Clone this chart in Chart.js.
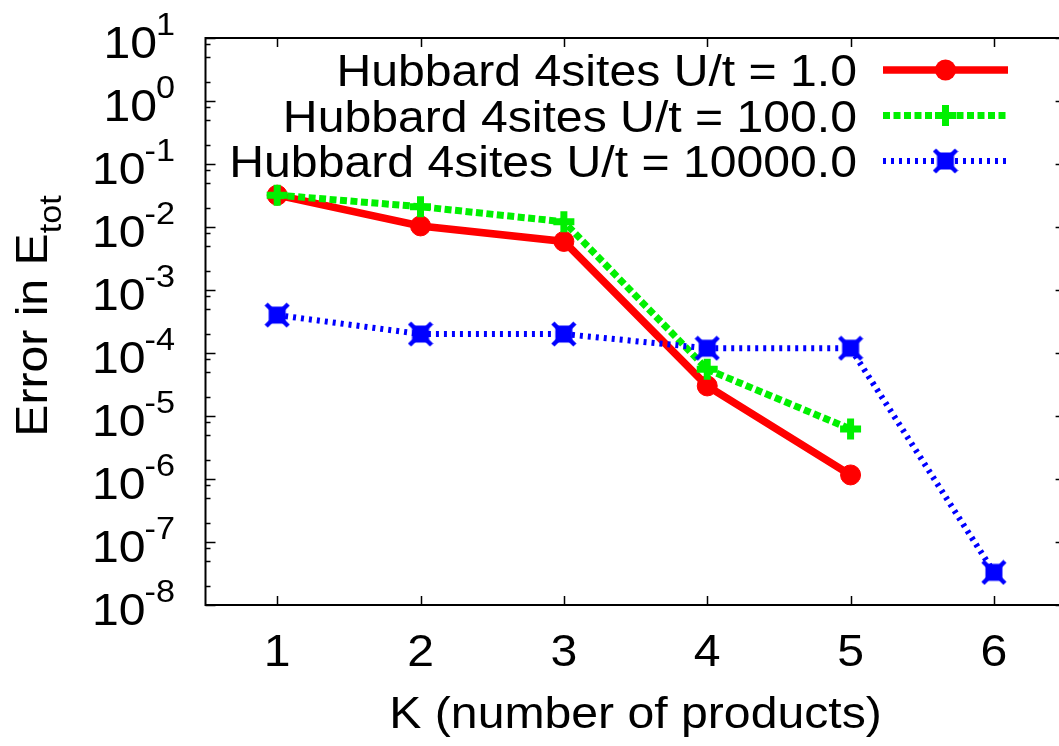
<!DOCTYPE html>
<html>
<head>
<meta charset="utf-8">
<script src="https://cdn.jsdelivr.net/npm/chart.js@4/dist/chart.umd.min.js"></script>
<style>
  html, body { margin: 0; padding: 0; background: #ffffff; overflow: hidden; width: 1059px; height: 746px; }
  #wrap { position: relative; width: 1059px; height: 746px; overflow: hidden; }
  #plot { display: block; position: absolute; left: 0; top: 0; }
</style>
</head>
<body>
<div id="wrap"><canvas id="plot" width="1070" height="746"></canvas></div>
<script>
// K = number of products
const kValues = [1, 2, 3, 4, 5, 6];
// Error in E_tot for the 4-site Hubbard model
const errU1 = [0.032, 0.0104, 0.0059, 3.0e-5, 1.16e-6];
const errU100 = [0.032, 0.021, 0.0121, 5.5e-5, 6.2e-6];
const errU10000 = [4.0e-4, 2.0e-4, 2.0e-4, 1.19e-4, 1.19e-4, 3.3e-8];
const seriesLabels = [
  'Hubbard 4sites U/t = 1.0',
  'Hubbard 4sites U/t = 100.0',
  'Hubbard 4sites U/t = 10000.0'
];
const yTickExponents = [1, 0, -1, -2, -3, -4, -5, -6, -7, -8];
const yMinorMultipliers = [2, 5, 8];
const xTickLabels = ['1', '2', '3', '4', '5', '6'];
const xTitle = 'K (number of products)';
const yTitleMain = 'Error in E';
const yTitleSub = 'tot';

const FONT = '"Liberation Sans", Arial, Helvetica, sans-serif';
const SX = 1.07; // slight horizontal stretch of the lettering

// filled square marker with small corner nubs
function squareMarker(color) {
  const c = document.createElement('canvas');
  c.width = 26; c.height = 26;
  const g = c.getContext('2d');
  g.fillStyle = color;
  g.strokeStyle = color;
  g.fillRect(4.5, 4.5, 17, 17);
  g.lineWidth = 4.5;
  g.beginPath();
  g.moveTo(2, 2); g.lineTo(24, 24);
  g.moveTo(24, 2); g.lineTo(2, 24);
  g.stroke();
  return c;
}
const blueMarker = squareMarker('#0000ff');

function pts(values) {
  return values.map((v, i) => ({ x: kValues[i], y: v }));
}

const datasets = [
  {
    label: seriesLabels[0],
    data: pts(errU1),
    borderColor: '#ff0000',
    backgroundColor: '#ff0000',
    borderWidth: 7.5,
    pointStyle: 'circle',
    pointRadius: 10,
    pointBackgroundColor: '#ff0000',
    pointBorderColor: '#ff0000',
    pointBorderWidth: 1,
    order: 3
  },
  {
    label: seriesLabels[1],
    data: pts(errU100),
    borderColor: '#00f000',
    backgroundColor: '#00f000',
    borderWidth: 7,
    borderDash: [7, 3.5],
    pointStyle: 'cross',
    pointRadius: 10.5,
    pointBackgroundColor: '#00f000',
    pointBorderColor: '#00f000',
    pointBorderWidth: 7,
    order: 2
  },
  {
    label: seriesLabels[2],
    data: pts(errU10000),
    borderColor: '#0000ff',
    backgroundColor: '#0000ff',
    borderWidth: 6,
    borderDash: [3, 5],
    pointStyle: blueMarker,
    pointRadius: 11,
    pointBackgroundColor: '#0000ff',
    pointBorderColor: '#0000ff',
    order: 1
  }
];

function drawText(ctx, s, x, y, size, align) {
  ctx.save();
  ctx.font = size + 'px ' + FONT;
  ctx.textAlign = align;
  ctx.textBaseline = 'alphabetic';
  ctx.fillStyle = '#000000';
  ctx.translate(x, y);
  ctx.scale(SX, 1);
  ctx.fillText(s, 0, 0);
  ctx.restore();
}
function textWidth(ctx, s, size) {
  ctx.save();
  ctx.font = size + 'px ' + FONT;
  const w = ctx.measureText(s).width * SX;
  ctx.restore();
  return w;
}

const framePlugin = {
  id: 'gnuFrame',
  afterDraw(chart) {
    const ctx = chart.ctx;
    const a = chart.chartArea;
    const xs = chart.scales.x, ys = chart.scales.y;

    // frame and inward ticks
    ctx.save();
    ctx.strokeStyle = '#000000';
    ctx.lineWidth = 2;
    ctx.strokeRect(a.left, a.top, a.right - a.left, a.bottom - a.top);
    ctx.lineWidth = 1.5;
    ctx.beginPath();
    yTickExponents.forEach(e => {
      const y = Math.round(ys.getPixelForValue(Math.pow(10, e))) + 0.5;
      ctx.moveTo(a.left, y); ctx.lineTo(a.left + 10, y);
      ctx.moveTo(a.right, y); ctx.lineTo(a.right - 10, y);
      if (e > -8) {
        yMinorMultipliers.forEach(m => {
          const ym = Math.round(ys.getPixelForValue(m * Math.pow(10, e - 1))) + 0.5;
          ctx.moveTo(a.left, ym); ctx.lineTo(a.left + 5, ym);
          ctx.moveTo(a.right, ym); ctx.lineTo(a.right - 5, ym);
        });
      }
    });
    kValues.forEach(k => {
      const x = Math.round(xs.getPixelForValue(k)) + 0.5;
      ctx.moveTo(x, a.bottom); ctx.lineTo(x, a.bottom - 9);
      ctx.moveTo(x, a.top); ctx.lineTo(x, a.top + 9);
    });
    ctx.stroke();
    ctx.restore();

    // y tick labels: 10 with superscript exponent
    const labelRight = 175;
    yTickExponents.forEach(e => {
      const y = ys.getPixelForValue(Math.pow(10, e));
      const sup = String(e);
      const supW = textWidth(ctx, sup, 32);
      drawText(ctx, sup, labelRight, y - 3.5, 32, 'right');
      drawText(ctx, '10', labelRight - supW + 1, y + 20, 45, 'right');
    });

    // x tick labels
    kValues.forEach((k, i) => {
      drawText(ctx, xTickLabels[i], xs.getPixelForValue(k), 666, 45, 'center');
    });

    // x title
    drawText(ctx, xTitle, (a.left + a.right) / 2, 728, 45, 'center');

    // y title, rotated, with subscript
    ctx.save();
    ctx.translate(47, 316);
    ctx.rotate(-Math.PI / 2);
    const wMain = textWidth(ctx, yTitleMain, 45);
    const wSub = textWidth(ctx, yTitleSub, 32);
    const start = -(wMain + wSub) / 2;
    drawText(ctx, yTitleMain, start, 0, 45, 'left');
    drawText(ctx, yTitleSub, start + wMain, 14, 32, 'left');
    ctx.restore();

    // key: text right-aligned, sample line with marker to its right
    const rows = [70, 115.5, 161];
    const x0 = 883, x1 = 1008, xm = 945.5;
    chart.data.datasets.forEach((ds, i) => {
      const y = rows[i];
      drawText(ctx, ds.label, 857, y + 16, 45, 'right');
      ctx.save();
      ctx.strokeStyle = ds.borderColor;
      ctx.lineWidth = ds.borderWidth;
      ctx.setLineDash(ds.borderDash || []);
      ctx.beginPath();
      ctx.moveTo(x0, y); ctx.lineTo(x1, y);
      ctx.stroke();
      ctx.setLineDash([]);
      if (ds.pointStyle === 'circle') {
        ctx.fillStyle = ds.pointBackgroundColor;
        ctx.beginPath();
        ctx.arc(xm, y, ds.pointRadius + 0.5, 0, Math.PI * 2);
        ctx.fill();
      } else if (ds.pointStyle === 'cross') {
        ctx.lineWidth = ds.pointBorderWidth;
        ctx.strokeStyle = ds.pointBorderColor;
        ctx.beginPath();
        ctx.moveTo(xm - ds.pointRadius, y); ctx.lineTo(xm + ds.pointRadius, y);
        ctx.moveTo(xm, y - ds.pointRadius); ctx.lineTo(xm, y + ds.pointRadius);
        ctx.stroke();
      } else {
        const img = ds.pointStyle;
        ctx.drawImage(img, xm - img.width / 2, y - img.height / 2);
      }
      ctx.restore();
    });
  }
};

new Chart(document.getElementById('plot'), {
  type: 'line',
  data: { datasets: datasets },
  options: {
    responsive: false,
    animation: false,
    devicePixelRatio: 1,
    layout: { autoPadding: false, padding: { left: 205.5, right: 4.4, top: 38, bottom: 141 } },
    scales: {
      x: { type: 'linear', min: 0.5, max: 6.5, display: false },
      y: { type: 'logarithmic', min: 1e-8, max: 10, display: false }
    },
    elements: { line: { tension: 0, fill: false } },
    plugins: { legend: { display: false }, tooltip: { enabled: false } }
  },
  plugins: [framePlugin]
});
</script>
</body>
</html>
